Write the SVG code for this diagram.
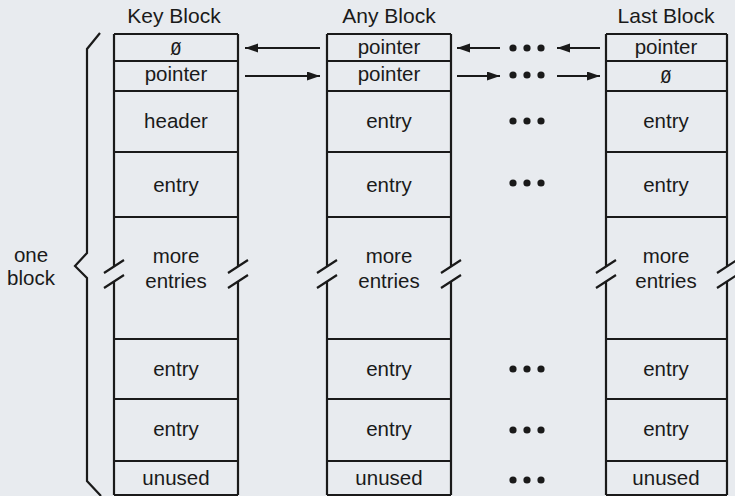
<svg xmlns="http://www.w3.org/2000/svg" width="735" height="496" viewBox="0 0 735 496">
<defs>
<marker id="ah" markerUnits="userSpaceOnUse" markerWidth="14" markerHeight="10" refX="13" refY="4.5" orient="auto">
<path d="M0,0 L13,4.5 L0,9 z" fill="#1a1a1a"/>
</marker>
<style>
.ln{stroke:#1a1a1a;stroke-width:2.2;fill:none}
.rw{stroke:#1a1a1a;stroke-width:2;fill:none}
.t{font-family:"Liberation Sans",Arial,sans-serif;font-size:20.5px;fill:#1a1a1a;text-anchor:middle}
.h{font-family:"Liberation Sans",Arial,sans-serif;font-size:21px;fill:#1a1a1a;text-anchor:middle}
.z{font-family:"DejaVu Sans Mono","Liberation Mono",monospace;font-size:18px;fill:#1a1a1a;text-anchor:middle}
.ar{stroke:#1a1a1a;stroke-width:1.8;fill:none;marker-end:url(#ah)}
.d{fill:#1a1a1a}
</style>
</defs>
<rect x="0" y="0" width="735" height="496" fill="#e8ebef"/>

<g id="brace">
<path class="ln" d="M100,33 L87,49 L87,253 L75,266 L87,278 L87,481 L101,496"/>
<text class="t" x="31" y="262">one</text>
<text class="t" x="31" y="285">block</text>
</g>

<g id="key-block">
<text class="h" x="174" y="23">Key Block</text>
<path class="ln" d="M114,34 H238 M114,34 V266 M114,281 V495 M238,34 V266 M238,281 V495 M114,495 H238"/>
<path class="rw" d="M114,61 H238 M114,91 H238 M114,152 H238 M114,217 H238 M114,339 H238 M114,399 H238 M114,461 H238"/>
<path class="ln" d="M104,273 L124,260 M104,288 L124,275 M228,273 L248,260 M228,288 L248,275"/>
<text class="z" x="176" y="55">Ø</text>
<text class="t" x="176" y="81">pointer</text>
<text class="t" x="176" y="128">header</text>
<text class="t" x="176" y="192">entry</text>
<text class="t" x="176" y="263">more</text>
<text class="t" x="176" y="288">entries</text>
<text class="t" x="176" y="376">entry</text>
<text class="t" x="176" y="436">entry</text>
<text class="t" x="176" y="485">unused</text>
</g>

<g id="any-block">
<text class="h" x="389" y="23">Any Block</text>
<path class="ln" d="M327,34 H451 M327,34 V266 M327,281 V495 M451,34 V266 M451,281 V495 M327,495 H451"/>
<path class="rw" d="M327,61 H451 M327,91 H451 M327,152 H451 M327,217 H451 M327,339 H451 M327,399 H451 M327,461 H451"/>
<path class="ln" d="M317,273 L337,260 M317,288 L337,275 M441,273 L461,260 M441,288 L461,275"/>
<text class="t" x="389" y="54">pointer</text>
<text class="t" x="389" y="81">pointer</text>
<text class="t" x="389" y="128">entry</text>
<text class="t" x="389" y="192">entry</text>
<text class="t" x="389" y="263">more</text>
<text class="t" x="389" y="288">entries</text>
<text class="t" x="389" y="376">entry</text>
<text class="t" x="389" y="436">entry</text>
<text class="t" x="389" y="485">unused</text>
</g>

<g id="last-block">
<text class="h" x="666" y="23">Last Block</text>
<path class="ln" d="M606,34 H727 M606,34 V266 M606,281 V495 M727,34 V266 M727,281 V495 M606,495 H727"/>
<path class="rw" d="M606,61 H727 M606,91 H727 M606,152 H727 M606,217 H727 M606,339 H727 M606,399 H727 M606,461 H727"/>
<path class="ln" d="M596,273 L616,260 M596,288 L616,275 M717,273 L737,260 M717,288 L737,275"/>
<text class="t" x="666" y="54">pointer</text>
<text class="z" x="666" y="83">Ø</text>
<text class="t" x="666" y="128">entry</text>
<text class="t" x="666" y="192">entry</text>
<text class="t" x="666" y="263">more</text>
<text class="t" x="666" y="288">entries</text>
<text class="t" x="666" y="376">entry</text>
<text class="t" x="666" y="436">entry</text>
<text class="t" x="666" y="485">unused</text>
</g>

<g id="connectors">
<line class="ar" x1="320" y1="48" x2="245" y2="48"/>
<line class="ar" x1="245" y1="76" x2="320" y2="76"/>
<line class="ar" x1="500" y1="48" x2="457" y2="48"/>
<line class="ar" x1="457" y1="76" x2="500" y2="76"/>
<line class="ar" x1="600" y1="48" x2="557" y2="48"/>
<line class="ar" x1="557" y1="76" x2="600" y2="76"/>
<g class="d">
<circle cx="513" cy="48" r="3.6"/><circle cx="527" cy="48" r="3.6"/><circle cx="541" cy="48" r="3.6"/>
<circle cx="513" cy="75" r="3.6"/><circle cx="527" cy="75" r="3.6"/><circle cx="541" cy="75" r="3.6"/>
<circle cx="513" cy="121" r="3.6"/><circle cx="527" cy="121" r="3.6"/><circle cx="541" cy="121" r="3.6"/>
<circle cx="513" cy="183" r="3.6"/><circle cx="527" cy="183" r="3.6"/><circle cx="541" cy="183" r="3.6"/>
<circle cx="513" cy="369" r="3.6"/><circle cx="527" cy="369" r="3.6"/><circle cx="541" cy="369" r="3.6"/>
<circle cx="513" cy="430" r="3.6"/><circle cx="527" cy="430" r="3.6"/><circle cx="541" cy="430" r="3.6"/>
<circle cx="513" cy="480" r="3.6"/><circle cx="527" cy="480" r="3.6"/><circle cx="541" cy="480" r="3.6"/>
</g>
</g>
</svg>
